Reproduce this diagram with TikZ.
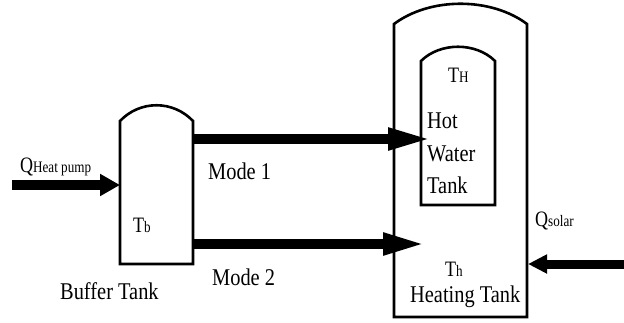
\documentclass[tikz,border=0pt]{standalone}
\usepackage{fontspec}
\setmainfont{Liberation Serif}
\usetikzlibrary{arrows.meta}
\newcommand\mysub[1]{{\fontsize{16}{18}\selectfont #1}}
\begin{document}
\begin{tikzpicture}[x=1pt,y=-1pt,
  tank/.style={line width=2.6pt, line join=miter},
  flowpipe/.style={line width=10pt},
  lbl/.style={anchor=base west, inner sep=0pt, font=\fontsize{24}{28}\selectfont, xscale=0.85},
  sym/.style={anchor=base west, inner sep=0pt, font=\fontsize{22}{26}\selectfont, xscale=0.82},
]
\useasboundingbox (0,0) rectangle (624,322);
% tanks
\draw[tank] (120,264) -- (120,121) .. controls (140,100) and (173,100) .. (193,121) -- (193,264) -- cycle;
\draw[tank] (394,317) -- (394,24) .. controls (430,-3) and (491,-3) .. (527,24) -- (527,317) -- cycle;
\draw[tank] (421,205) -- (421,61) .. controls (440,42) and (476,42) .. (495,61) -- (495,205) -- cycle;
% connector end points
\coordinate (hpin) at (12,185);
\coordinate (bufin) at (120,185);
\coordinate (m1s) at (193,139);
\coordinate (m1e) at (433,139);
\coordinate (m2s) at (193,244);
\coordinate (m2e) at (427,244);
\coordinate (solin) at (624,264);
\coordinate (sole) at (528,264);
% arrows
\draw[flowpipe, -{Triangle[length=20pt 0,width=21pt 0]}] (hpin) -- (bufin);
\draw[flowpipe, -{Triangle[length=45pt 0,width=20pt 0]}] (m1s) -- (m1e);
\draw[flowpipe, -{Triangle[length=44pt 0,width=20pt 0]}] (m2s) -- (m2e);
\draw[flowpipe, line width=9pt, -{Triangle[length=19pt 0,width=18pt 0]}] (solin) -- (sole);
% labels
\node[sym] (qhp) at (20,172) {Q\mysub{Heat pump}};
\node[sym] (tb) at (133,232) {T\mysub{b}};
\node[lbl] (buf) at (60,299) {Buffer Tank};
\node[lbl] (mode1) at (208,179) {Mode 1};
\node[lbl] (mode2) at (212,285) {Mode 2};
\node[sym] (tH) at (448,82) {T\mysub{H}};
\node[lbl] (hot) at (427,128) {Hot};
\node[lbl] (water) at (427,161) {Water};
\node[lbl] (tank) at (427,193) {Tank};
\node[sym] (qs) at (535,226) {Q\mysub{solar}};
\node[sym] (th) at (445,276) {T\mysub{h}};
\node[lbl] (heat) at (410,302) {Heating Tank};
\end{tikzpicture}
\end{document}
